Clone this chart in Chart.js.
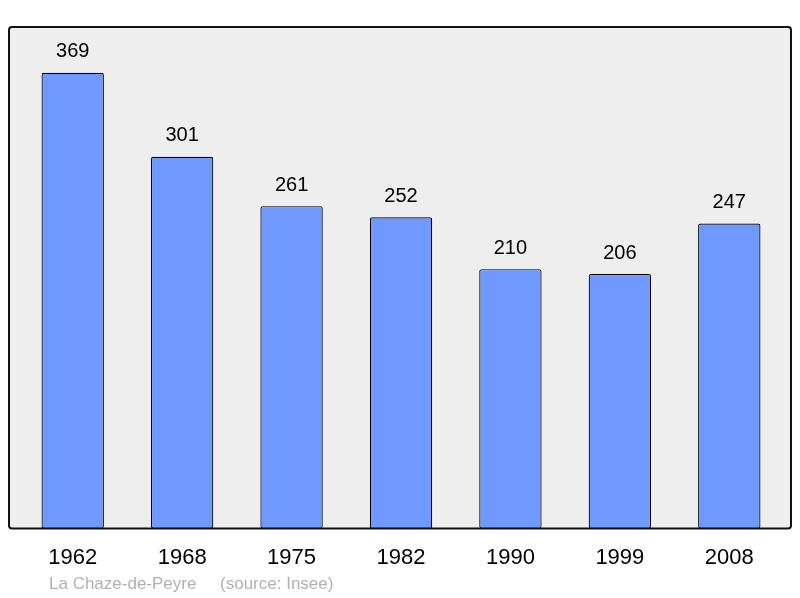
<!DOCTYPE html>
<html>
<head>
<meta charset="utf-8">
<script src="https://cdn.jsdelivr.net/npm/chart.js@4"></script>
<style>
  html, body { margin: 0; padding: 0; background: #fff; }
  #wrap { width: 800px; height: 598px; }
</style>
</head>
<body>
<div id="wrap"><canvas id="popChart" width="800" height="598"></canvas></div>
<script>
// population by census year
var years = ['1962', '1968', '1975', '1982', '1990', '1999', '2008'];
var population = [369, 301, 261, 252, 210, 206, 247];
var footerText = 'La Chaze-de-Peyre     (source: Insee)';

// grey frame behind the plot + value labels + footer
var framePlugin = {
    id: 'frame',
    beforeDraw: function(chart) {
        var c = chart.ctx, a = chart.chartArea;
        var x0 = a.left - 9, x1 = a.right + 7, y0 = a.top, y1 = a.bottom;
        c.save();
        c.beginPath();
        c.roundRect(x0, y0, x1 - x0, y1 - y0, 3);
        c.fillStyle = '#eeeeee';
        c.fill();
        c.restore();
    },
    afterDatasetsDraw: function(chart) {
        var c = chart.ctx, a = chart.chartArea;
        var x0 = a.left - 9, x1 = a.right + 7, y0 = a.top, y1 = a.bottom;
        c.save();
        c.beginPath();
        c.roundRect(x0, y0, x1 - x0, y1 - y0, 3);
        c.lineWidth = 2;
        c.strokeStyle = '#111';
        c.stroke();

        var meta = chart.getDatasetMeta(0);
        c.fillStyle = '#000';
        c.font = '20px "Liberation Sans", Arial, sans-serif';
        c.textAlign = 'center';
        c.textBaseline = 'middle';
        meta.data.forEach(function(bar, i) {
            c.fillText(population[i], bar.x, bar.y - 21);
        });

        c.fillStyle = '#b0b0b0';
        c.font = '17px "Liberation Sans", Arial, sans-serif';
        c.textAlign = 'left';
        c.fillText(footerText, a.left + 31, 584);
        c.restore();
    }
};

new Chart(document.getElementById('popChart').getContext('2d'), {
    type: 'bar',
    data: {
        labels: years,
        datasets: [{
            data: population,
            backgroundColor: 'rgb(112, 153, 255)',
            borderColor: '#000',
            borderWidth: 1.2,
            borderRadius: 2,
            borderSkipped: false,
            barPercentage: 0.57,
            categoryPercentage: 1
        }]
    },
    options: {
        responsive: false,
        animation: false,
        layout: { padding: { left: 18, right: 16, top: 27, bottom: 19 } },
        scales: {
            x: {
                grid: { display: false },
                border: { display: false },
                ticks: {
                    color: '#000',
                    padding: 8,
                    font: { size: 22, family: '"Liberation Sans", Arial, sans-serif' }
                }
            },
            y: {
                display: false,
                min: 0,
                max: 406
            }
        },
        plugins: {
            legend: { display: false },
            tooltip: { enabled: false }
        }
    },
    plugins: [framePlugin]
});
</script>
</body>
</html>
